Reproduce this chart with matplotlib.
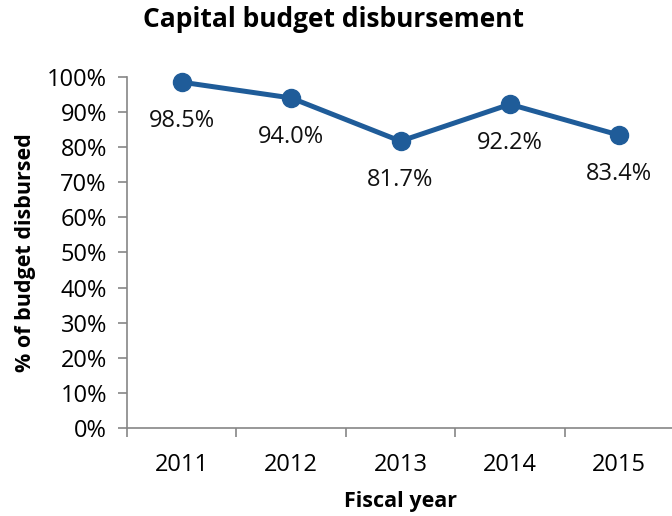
import matplotlib
matplotlib.use("Agg")
import matplotlib.pyplot as plt
from matplotlib.ticker import PercentFormatter, FixedLocator

# capital budget disbursement by fiscal year
years = ["2011", "2012", "2013", "2014", "2015"]
disbursed = [98.5, 94.0, 81.7, 92.2, 83.4]

plt.rcParams['font.family'] = ['Open Sans', 'DejaVu Sans']

fig = plt.figure(figsize=(6.72, 5.16), dpi=100)
ax = fig.add_axes([0.189, 0.1705, 0.814, 0.6805])

blue = "#1f5c99"
grey = "#868686"
x = list(range(len(years)))
ax.plot(x, disbursed, color=blue, linewidth=3.6, marker="o", markersize=13,
        solid_capstyle="round", clip_on=False, zorder=3)

# value labels below each point
for xi, v in zip(x, disbursed):
    ax.annotate("%.1f%%" % v, (xi, v), xytext=(0, -28), textcoords="offset points",
                ha="center", va="center", fontsize=17, color="#111111")

ax.set_xlim(-0.5, 4.5)
ax.set_ylim(0, 100)
ax.set_xticks(x)
ax.set_xticklabels(years)
ax.xaxis.set_minor_locator(FixedLocator([i - 0.5 for i in range(len(years) + 1)]))
ax.set_yticks(range(0, 101, 10))
ax.yaxis.set_major_formatter(PercentFormatter(decimals=0))

ax.tick_params(axis="x", which="major", length=0, pad=18, labelsize=17)
ax.tick_params(axis="x", which="minor", length=6.5, width=1.2, color=grey, direction="out")
ax.tick_params(axis="y", length=6.5, width=1.2, color=grey, pad=8, labelsize=17)

for side in ["top", "right"]:
    ax.spines[side].set_visible(False)
for side in ["left", "bottom"]:
    ax.spines[side].set_color(grey)
    ax.spines[side].set_linewidth(1.2)

ax.set_xlabel("Fiscal year", fontsize=15.5, fontweight="bold", labelpad=10)
ax.set_ylabel("% of budget disbursed", fontsize=15.5, fontweight="bold", labelpad=8)
fig.text(0.497, 0.962, "Capital budget disbursement", ha="center", va="center",
         fontsize=19, fontweight="bold")

fig.savefig("out.png", dpi=100)
